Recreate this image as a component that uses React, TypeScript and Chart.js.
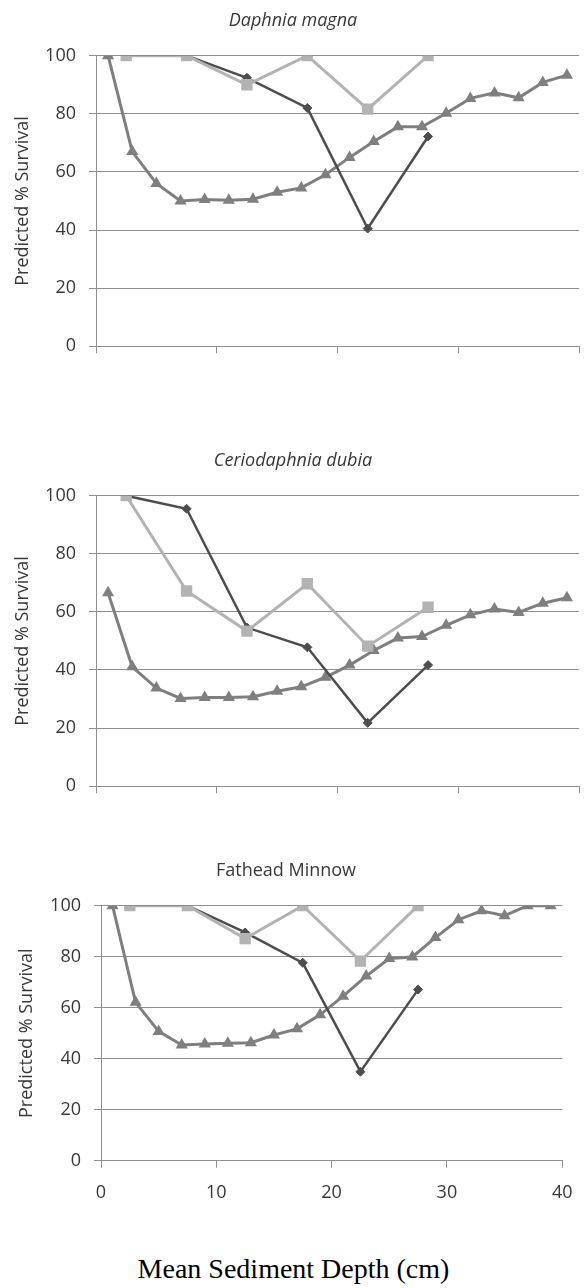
import React, { useEffect, useRef } from "react";
import { Chart, registerables } from "chart.js";

Chart.register(...registerables);

// ---- data ----
const depthTri = [1, 3, 5, 7, 9, 11, 13, 15, 17, 19, 21, 23, 25, 27, 29, 31, 33, 35, 37, 39];
const depthSeg = [2.5, 7.5, 12.5, 17.5, 22.5, 27.5];
const xTickValues = [0, 10, 20, 30, 40];
const yTickValues = [0, 20, 40, 60, 80, 100];

const daphniaTri = [100, 67, 56, 50, 50.5, 50.2, 50.6, 53, 54.5, 59, 65, 70.5, 75.5, 75.5, 80.2, 85.3, 87.2, 85.5, 90.8, 93.3];
const daphniaDia = [100, 100, 92.4, 82, 40.5, 72.2];
const daphniaSq = [100, 100, 90, 100, 81.6, 100];

const cerioTri = [66.6, 41.1, 33.8, 30.2, 30.5, 30.5, 30.8, 32.7, 34.2, 37.5, 41.7, 46.7, 51, 51.5, 55.4, 59, 61, 59.8, 63, 64.9];
const cerioDia = [100, 95.5, 54.6, 47.8, 21.8, 41.7];
const cerioSq = [100, 67.2, 53.4, 69.7, 48.2, 61.6];

const fatheadTri = [100, 62.1, 50.7, 45.4, 45.8, 46.1, 46.3, 49.3, 51.7, 57.2, 64.5, 72.4, 79.3, 79.9, 87.5, 94.5, 98, 96.1, 100, 100];
const fatheadDia = [100, 100, 89.5, 77.6, 34.9, 67.1];
const fatheadSq = [100, 100, 87.1, 100, 78.3, 100];

const panelTitles = ["Daphnia magna", "Ceriodaphnia dubia", "Fathead Minnow"];
const yAxisTitle = "Predicted % Survival";
const xAxisTitle = "Mean Sediment Depth (cm)";

// ---- styles ----
const FONT = "'Open Sans', sans-serif";
const TEXT = "#383838";
const GRID = "#8f8f8f";
const TRI_COLOR = "#7f7f7f";
const DIA_COLOR = "#4d4d4d";
const SQ_COLOR = "#b3b3b3";
const W = 587;

type PanelLayout = {
  top: number;
  height: number;
  titleY: number;
  areaTop: number;
  areaBottom: number;
  areaLeft: number;
  areaRight: number;
  showXLabels: boolean;
  italic: boolean;
  yTitleCenter: number;
};

const pts = (xs: number[], ys: number[]) => xs.map((x, i) => ({ x, y: ys[i] }));

function Panel(props: { title: string; tri: number[]; dia: number[]; sq: number[]; layout: PanelLayout }) {
  const ref = useRef<HTMLCanvasElement | null>(null);
  const { title, tri, dia, sq, layout } = props;
  useEffect(() => {
    if (!ref.current) return;
    const titleSize = 18;
    const titleLH = titleSize * 1.2;
    const tPadTop = layout.titleY - layout.top - titleLH / 2;
    const tPadBottom = layout.areaTop - layout.top - tPadTop - titleLH;
    const xAxisHeight = layout.top + layout.height - layout.areaBottom;
    const yTitleSize = 18;
    const yTitleLH = yTitleSize * 1.2;
    const chart = new Chart(ref.current, {
      type: "line",
      data: {
        datasets: [
          {
            data: pts(depthSeg, sq),
            borderColor: SQ_COLOR,
            backgroundColor: SQ_COLOR,
            borderWidth: 3,
            pointStyle: "rect",
            pointRadius: 8,
            pointBorderWidth: 0,
            order: 0,
          },
          {
            data: pts(depthSeg, dia),
            borderColor: DIA_COLOR,
            backgroundColor: DIA_COLOR,
            borderWidth: 2.5,
            pointStyle: "rectRot",
            pointRadius: 4.5,
            pointBorderWidth: 1,
            order: 1,
          },
          {
            data: pts(depthTri, tri),
            borderColor: TRI_COLOR,
            backgroundColor: TRI_COLOR,
            borderWidth: 3,
            pointStyle: "triangle",
            pointRadius: 7,
            pointBorderWidth: 0,
            order: 2,
          },
        ],
      },
      options: {
        responsive: false,
        animation: false,
        devicePixelRatio: 1,
        layout: { padding: { left: 0, right: W - layout.areaRight, top: 0, bottom: 0 } },
        plugins: {
          legend: { display: false },
          tooltip: { enabled: false },
          title: {
            display: true,
            text: title,
            color: TEXT,
            font: { family: FONT, size: titleSize, style: layout.italic ? "italic" : "normal", weight: "normal" },
            padding: { top: tPadTop, bottom: tPadBottom },
          },
        },
        scales: {
          x: {
            type: "linear",
            min: 0,
            max: 40,
            afterBuildTicks: (axis: any) => {
              axis.ticks = xTickValues.map((v) => ({ value: v }));
            },
            ticks: {
              display: layout.showXLabels,
              color: TEXT,
              font: { family: FONT, size: 18 },
              padding: 14.5,
              maxRotation: 0,
            },
            grid: { drawOnChartArea: false, drawTicks: true, tickLength: 7, color: GRID },
            border: { display: true, color: GRID, width: 1 },
            afterFit: (axis: any) => {
              axis.height = xAxisHeight;
            },
          },
          y: {
            min: 0,
            max: 100,
            afterBuildTicks: (axis: any) => {
              axis.ticks = yTickValues.map((v) => ({ value: v }));
            },
            ticks: {
              color: TEXT,
              font: { family: FONT, size: 18 },
              padding: 13,
            },
            grid: { drawTicks: true, tickLength: 7, color: GRID, lineWidth: 1 },
            border: { display: true, color: GRID, width: 1 },
            title: {
              display: true,
              text: yAxisTitle,
              color: TEXT,
              font: { family: FONT, size: yTitleSize },
              padding: { top: layout.yTitleCenter - yTitleLH / 2, bottom: 0 },
            },
            afterFit: (axis: any) => {
              axis.width = layout.areaLeft;
            },
          },
        },
      },
    } as any);
    return () => chart.destroy();
  }, [title, tri, dia, sq, layout]);
  return (
    <div style={{ position: "absolute", left: 0, top: layout.top, width: W, height: layout.height }}>
      <canvas ref={ref} width={W} height={layout.height} style={{ width: W, height: layout.height, display: "block" }} />
    </div>
  );
}

const layout1: PanelLayout = {
  top: 0, height: 370, titleY: 20.7, areaTop: 55.7, areaBottom: 354, areaLeft: 96, areaRight: 586,
  showXLabels: false, italic: true, yTitleCenter: 22.5,
};
const layout2: PanelLayout = {
  top: 430, height: 380, titleY: 460.7, areaTop: 495.7, areaBottom: 794, areaLeft: 96, areaRight: 586,
  showXLabels: false, italic: true, yTitleCenter: 22.5,
};
const layout3: PanelLayout = {
  top: 840, height: 380, titleY: 870.7, areaTop: 905.7, areaBottom: 1160.7, areaLeft: 101, areaRight: 572,
  showXLabels: true, italic: false, yTitleCenter: 27,
};

export default function App() {
  return (
    <div style={{ position: "absolute", left: 0, top: 0, width: W, height: 1288, background: "#ffffff", overflow: "hidden" }}>
      <Panel title={panelTitles[0]} tri={daphniaTri} dia={daphniaDia} sq={daphniaSq} layout={layout1} />
      <Panel title={panelTitles[1]} tri={cerioTri} dia={cerioDia} sq={cerioSq} layout={layout2} />
      <Panel title={panelTitles[2]} tri={fatheadTri} dia={fatheadDia} sq={fatheadSq} layout={layout3} />
      <div
        style={{
          position: "absolute",
          left: 0,
          width: W,
          top: 1252.6,
          textAlign: "center",
          fontFamily: "'Liberation Serif', 'Times New Roman', serif",
          fontSize: 28,
          lineHeight: "32px",
          color: "#000",
        }}
      >
        {xAxisTitle}
      </div>
    </div>
  );
}
